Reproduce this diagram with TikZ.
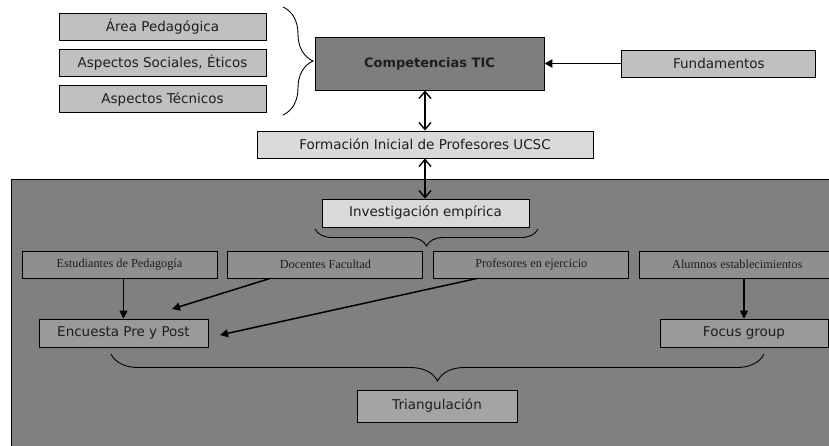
\documentclass[tikz,border=0pt]{standalone}
\usepackage{fontspec}
\usepackage{xcolor}
\usepackage{tikz}
\setmainfont{DejaVu Sans}
\newfontfamily\timesfont{Liberation Serif}
\definecolor{panelgray}{RGB}{128,128,128}
\definecolor{coregray}{RGB}{126,126,126}
\definecolor{topicgray}{RGB}{192,192,192}
\definecolor{palegray}{RGB}{217,217,217}
\definecolor{groupgray}{RGB}{143,143,143}
\definecolor{methodgray}{RGB}{154,154,154}
\definecolor{inkgray}{RGB}{30,30,30}
\usetikzlibrary{arrows.meta, positioning, calc, decorations.pathreplacing}

\begin{document}
\begin{tikzpicture}[
    x=1pt, y=-1pt,
    node distance=8.5pt,
    box/.style={rectangle, draw=black, line width=0.9pt, inner sep=0pt, text=inkgray, align=center},
    topic/.style={box, fill=topicgray, minimum width=207pt, minimum height=27pt, font=\fontsize{13.5}{15}\selectfont},
    core/.style={box, fill=coregray, minimum width=229pt, minimum height=53pt, font=\fontsize{13}{15}\selectfont\bfseries},
    pale/.style={box, fill=palegray, minimum height=27pt, font=\fontsize{13.5}{15}\selectfont},
    group/.style={box, fill=groupgray, minimum width=195pt, minimum height=27pt, font=\fontsize{12.3}{14}\selectfont\timesfont},
    method/.style={box, fill=methodgray, minimum height=28pt, font=\fontsize{13.5}{15}\selectfont},
    arrow/.style={-{Triangle[length=8pt, width=8pt]}, line width=1.5pt},
    biarrow/.style={{Straight Barb[length=7pt, width=12pt]}-{Straight Barb[length=7pt, width=12pt]}, line width=1.4pt},
    brace/.style={decorate, line width=0.9pt}
]
    \useasboundingbox (0,0) rectangle (829,446);

    % Empirical panel
    \draw[fill=panelgray, draw=black, line width=0.9pt] (11,179) rectangle (840,460);

    % Dimensions of the competences
    \node[topic] (area) at (162.5,26.5) {Área Pedagógica};
    \node[topic, below=of area] (social) {Aspectos Sociales, Éticos};
    \node[topic, below=of social] (tecnico) {Aspectos Técnicos};
    \draw[brace, decoration={brace, amplitude=30pt}] (283,7) -- (283,115);

    % Core
    \node[core] (comp) at (429.5,63.5) {Competencias TIC};
    \node[topic, minimum width=194pt, right=77pt of comp] (fund) {Fundamentos};
    \node[pale, minimum width=336pt] (form) at (425,144.5) {Formación Inicial de Profesores UCSC};
    \node[pale, minimum width=207pt, minimum height=28pt] (inv) at (425.5,213) {Investigación empírica};

    % Arrows
    \draw[arrow, line width=1.8pt] (fund) -- (comp);
    \draw[biarrow] (form.north |- comp.south) -- (form.north);
    \draw[biarrow] (form.south) -- (form.south |- inv.north);
    \draw[brace, decoration={brace, amplitude=17pt}] (538,229) -- (315,229);

    % Groups studied
    \node[group] (estud) at (119.5,264.5) {Estudiantes de Pedagogía};
    \node[group, right=10pt of estud] (docen) {Docentes Facultad};
    \node[group, right=10pt of docen] (profe) {Profesores en ejercicio};
    \node[group, right=10pt of profe] (alumn) {Alumnos establecimientos};

    % Instruments
    \node[method, minimum width=169pt] (encuesta) at (123.5,333) {Encuesta Pre y Post};
    \node[method, minimum width=168pt] (focus) at (744,333) {Focus group};
    \node[method, minimum width=160pt, minimum height=32pt, fill=methodgray!90!white] (triang) at (437,406) {Triangulación};

    \coordinate (docend) at (172,309);
    \coordinate (profend) at (220,335);
    \draw[arrow] (estud.south -| encuesta.north) -- (encuesta.north);
    \draw[arrow] (docen.south -| 270,0) -- (docend);
    \draw[arrow] (profe.south -| 477,0) -- (profend);
    \draw[arrow] (alumn.south -| focus.north) -- (focus.north);

    \draw[brace, decoration={brace, amplitude=27pt}] (764,354) -- (111,354);
\end{tikzpicture}
\end{document}
